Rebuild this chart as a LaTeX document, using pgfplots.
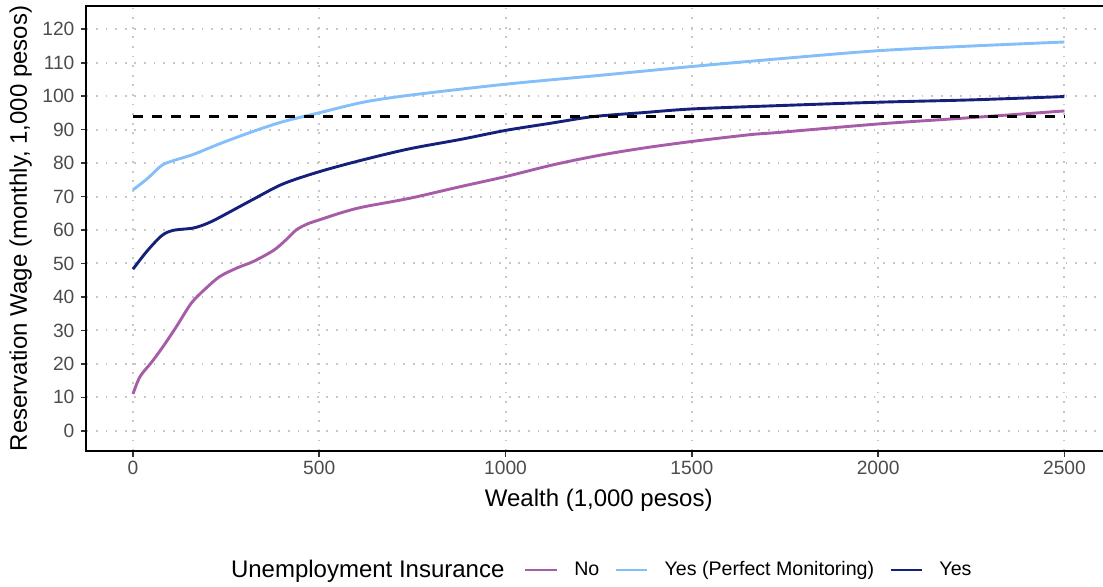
\documentclass[border=0pt]{standalone}
\usepackage{pgfplots}
\pgfplotsset{compat=1.18}
\usepackage{fontspec}
\setmainfont{Liberation Sans}
\definecolor{cNo}{HTML}{A65CA6}
\definecolor{cPM}{HTML}{85BFF9}
\definecolor{cYes}{HTML}{15207A}
\begin{document}
\begin{tikzpicture}
\begin{axis}[
  at={(0,0)}, anchor=south west,
  scale only axis, width=512.3pt, height=222.65pt,
  xmin=-125, xmax=2625, ymin=-6.05, ymax=127.05,
  xtick={0,500,1000,1500,2000,2500},
  ytick={0,10,...,120},
  scaled ticks=false,
  /pgf/number format/1000 sep={},
  /pgf/number format/assume math mode=true,
  axis line style={line width=1pt, black},
  tick align=outside, major tick length=2.8pt,
  tick style={line width=0.8pt, color=black!80},
  tick pos=left,
  grid=major,
  major grid style={line width=1pt, color=black!22, dash pattern=on 0.9pt off 3.9pt},
  tick label style={font=\fontsize{9.6}{11}\selectfont, color=black!70},
  xticklabel style={anchor=base, inner sep=0pt, yshift=-9pt},
  yticklabel style={anchor=east, inner sep=0pt, xshift=-3pt},
  every axis x label/.style={at={(axis description cs:0.5,-0.1235)}, anchor=base},
  every axis y label/.style={at={(axis description cs:-0.058,0.5)}, rotate=90, anchor=base},
  label style={font=\fontsize{12}{14}\selectfont, color=black},
  xlabel={Wealth (1,000 pesos)},
  ylabel={Reservation Wage (monthly, 1,000 pesos)},
  legend columns=-1,
  legend style={at={(axis description cs:0.4271,-0.2672)}, anchor=west, draw=none, fill=none,
    inner sep=0pt, outer sep=0pt, font=\fontsize{9.8}{12}\selectfont,
    nodes={inner sep=0pt},
    /tikz/every odd column/.append style={column sep=8pt},
    /tikz/every even column/.append style={column sep=7.5pt}},
  legend image code/.code={\draw[#1] (0pt,0pt) -- (15.7pt,0pt);},
  every axis plot/.append style={line width=1.45pt},
]
\addplot[color=cNo, smooth, tension=0.5] coordinates {
(0,11.0) (19,16.2) (50,20.5) (81,25.2) (117,31.2) (157,38.2) (195,42.5) (233,46.1)
(280,48.7) (323,50.6) (377,53.9) (410,57.0) (439,60.1) (470,61.9) (502,63.1) (560,65.2)
(618,66.9) (743,69.5) (880,73.0) (1001,76.0) (1128,79.5) (1250,82.3) (1370,84.5)
(1502,86.5) (1656,88.5) (1736,89.2) (2000,91.7) (2237,93.5) (2500,95.6)};
\addlegendentry{No}
\addplot[color=cPM, smooth, tension=0.5] coordinates {
(0,72.0) (40,75.5) (77,79.3) (110,80.8) (162,82.6) (233,85.8) (323,89.5) (403,92.4)
(502,95.1) (618,98.2) (743,100.3) (1001,103.6) (1250,106.2) (1502,108.9) (1736,111.2)
(2000,113.6) (2250,115.0) (2500,116.2)};
\addlegendentry{Yes (Perfect Monitoring)}
\addplot[color=cYes, smooth, tension=0.5] coordinates {
(0,48.3) (37,53.6) (77,58.3) (108,59.9) (162,60.6) (200,62.0) (233,63.8) (323,69.2)
(403,73.8) (502,77.5) (618,81.0) (743,84.3) (880,87.1) (1001,89.8) (1120,91.9)
(1235,93.9) (1370,95.1) (1502,96.2) (1736,97.2) (2000,98.2) (2250,98.9) (2500,99.9)};
\addlegendentry{Yes}
\addplot[black, line width=1.35pt, dash pattern=on 5pt off 4.5pt, forget plot] coordinates {(0,94) (2500,94)};
\end{axis}
\node[anchor=base west, font=\fontsize{12}{14}\selectfont, inner sep=0pt] at (72.1pt,-63pt) {Unemployment Insurance};
\pgfresetboundingbox
\useasboundingbox (-43.2pt,-67.5pt) rectangle (508.3pt,225.5pt);
\end{tikzpicture}
\end{document}
